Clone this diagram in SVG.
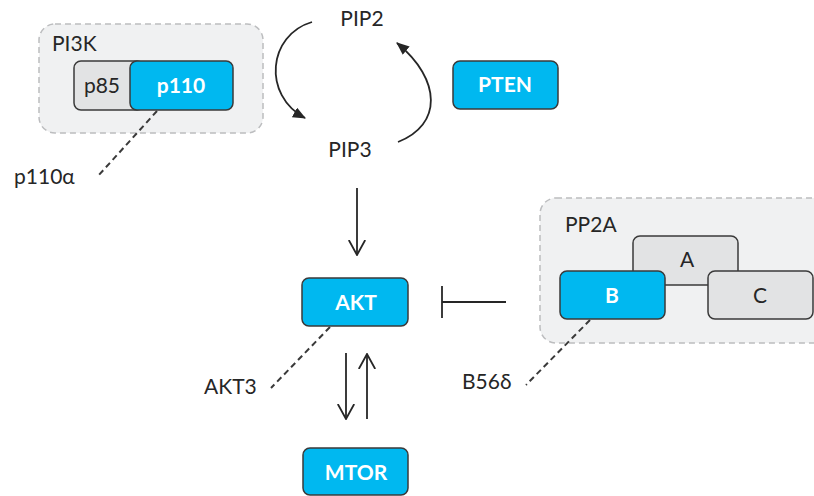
<svg xmlns="http://www.w3.org/2000/svg" width="814" height="496" viewBox="0 0 814 496">
  <style>
    .grp { fill: #f0f1f2; stroke: #bcbdbf; stroke-width: 1.5; stroke-dasharray: 6 4; }
    .blue { fill: #00b8f0; stroke: #3a3a3a; stroke-width: 1.5; }
    .gray { fill: #e2e3e4; stroke: #3a3a3a; stroke-width: 1.5; }
    .lbl { font-family: Lato, "Open Sans", "Liberation Sans", sans-serif; font-size: 21px; fill: #262626; }
    .wlbl { font-family: Lato, "Open Sans", "Liberation Sans", sans-serif; font-size: 21px; font-weight: bold; fill: #ffffff; text-anchor: middle; }
    .glbl { font-family: Lato, "Open Sans", "Liberation Sans", sans-serif; font-size: 21px; fill: #262626; text-anchor: middle; }
    .edge { fill: none; stroke: #262626; stroke-width: 1.8; }
    .dash { fill: none; stroke: #3a3a3a; stroke-width: 2; stroke-dasharray: 6 4; }
  </style>
  <defs>
    <marker id="solidHead" viewBox="0 0 12 10" refX="11" refY="5" markerWidth="13" markerHeight="11" markerUnits="userSpaceOnUse" orient="auto">
      <path d="M0,0 L12,5 L0,10 z" fill="#262626"/>
    </marker>
    <marker id="openHead" viewBox="0 0 16 18" refX="15" refY="9" markerWidth="16" markerHeight="18" markerUnits="userSpaceOnUse" orient="auto">
      <path d="M0,0.8 L15,9 L0,17.2" fill="none" stroke="#262626" stroke-width="1.8"/>
    </marker>
  </defs>

  <!-- PI3K complex -->
  <g id="pi3k">
    <rect class="grp" x="39" y="24" width="224" height="109" rx="16"/>
    <text class="lbl" x="52" y="51">PI3K</text>
    <g id="p85">
      <rect class="gray" x="74" y="61" width="70" height="49" rx="7"/>
      <text class="glbl" x="102" y="93">p85</text>
    </g>
    <g id="p110">
      <rect class="blue" x="130" y="61" width="103" height="49" rx="7"/>
      <text class="wlbl" x="181" y="93">p110</text>
    </g>
  </g>

  <!-- PP2A complex -->
  <g id="pp2a">
    <rect class="grp" x="540" y="198" width="290" height="145" rx="16"/>
    <text class="lbl" x="565" y="232">PP2A</text>
    <g id="ppa">
      <rect class="gray" x="633" y="236" width="105" height="49" rx="7"/>
      <text class="glbl" x="687" y="267">A</text>
    </g>
    <g id="ppb">
      <rect class="blue" x="560" y="271" width="105" height="48" rx="7"/>
      <text class="wlbl" x="612" y="303">B</text>
    </g>
    <g id="ppc">
      <rect class="gray" x="708" y="271" width="105" height="48" rx="7"/>
      <text class="glbl" x="760" y="303">C</text>
    </g>
  </g>

  <g id="pip2"><text class="glbl" x="362" y="26">PIP2</text></g>
  <g id="pip3"><text class="glbl" x="350" y="157">PIP3</text></g>

  <g id="pten">
    <rect class="blue" x="453" y="61" width="105" height="48" rx="7"/>
    <text class="wlbl" x="505" y="92">PTEN</text>
  </g>

  <g id="akt">
    <rect class="blue" x="302" y="278" width="106" height="48" rx="7"/>
    <text class="wlbl" x="356" y="310">AKT</text>
  </g>

  <g id="mtor">
    <rect class="blue" x="303" y="448" width="105" height="47" rx="7"/>
    <text class="wlbl" x="356" y="480">MTOR</text>
  </g>

  <g id="labels">
    <text class="lbl" x="14" y="184">p110α</text>
    <text class="lbl" x="204" y="394">AKT3</text>
    <text class="lbl" x="462" y="389">B56δ</text>
  </g>

  <g id="connectors">
    <!-- PIP2 / PIP3 cycle -->
    <path class="edge" d="M312,22 C268,35 262,95 305,118" marker-end="url(#solidHead)"/>
    <path class="edge" d="M398,142 C442,125 442,80 397,43" marker-end="url(#solidHead)"/>
    <!-- PIP3 to AKT -->
    <line class="edge" x1="357" y1="188" x2="357" y2="255" marker-end="url(#openHead)"/>
    <!-- PP2A inhibits AKT -->
    <line class="edge" x1="506" y1="302" x2="442" y2="302"/>
    <line class="edge" x1="442" y1="286" x2="442" y2="318"/>
    <!-- AKT / MTOR -->
    <line class="edge" x1="346" y1="353" x2="346" y2="419" marker-end="url(#openHead)"/>
    <line class="edge" x1="367" y1="419" x2="367" y2="354" marker-end="url(#openHead)"/>
    <!-- isoform callouts -->
    <line class="dash" x1="157" y1="111" x2="98" y2="176"/>
    <line class="dash" x1="330" y1="327" x2="271" y2="388"/>
    <line class="dash" x1="590" y1="320" x2="526" y2="385"/>
  </g>
</svg>
